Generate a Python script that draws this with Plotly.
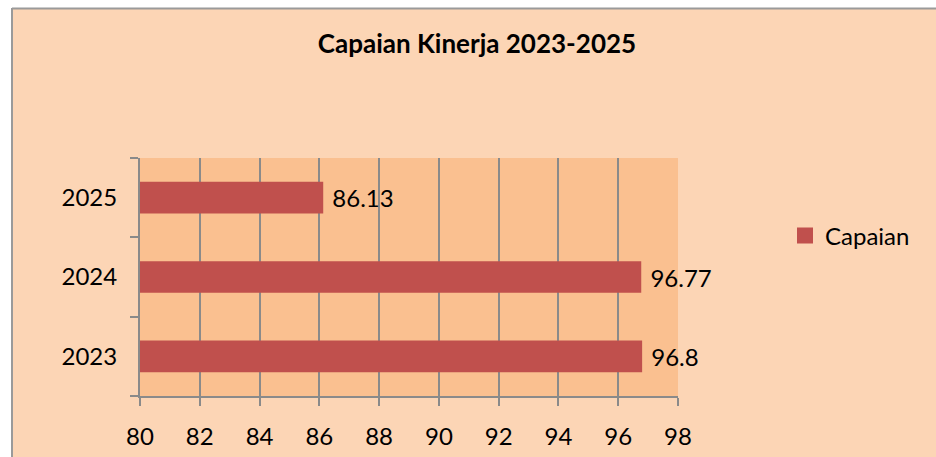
import plotly.graph_objects as go

# ---- data ----
years = ["2023", "2024", "2025"]
capaian = [96.8, 96.77, 86.13]
x_ticks = [80, 82, 84, 86, 88, 90, 92, 94, 96, 98]
title_text = "Capaian Kinerja 2023-2025"
series_name = "Capaian"

# ---- style ----
BAR = "#C0504D"
OUTER = "#FCD5B5"
PLOTBG = "#FAC090"
GRID = "#8A8A8A"
FONT = "Lato"

W, H = 936, 457
# plot area in page pixels: x 140..678, y 158..396
PL, PR, PT, PB = 140, 678, 158, 396
L, R, T, B = PL, W - PR, PT, H - PB
pw, ph = PR - PL, PB - PT


def px_x(p):  # page px -> paper
    return (p - PL) / pw


def px_y(p):
    return (PB - p) / ph


fig = go.Figure()
fig.add_trace(go.Bar(
    x=capaian, y=years, orientation="h", width=0.4,
    marker=dict(color=BAR, line=dict(width=0)),
    text=[f"{v:g}" for v in capaian],
    texttemplate="\u00a0%{text}",
    textposition="outside", cliponaxis=False, constraintext="none",
    textfont=dict(family=FONT, size=24, color="black"),
    showlegend=False, hoverinfo="x+y",
))
# legend entry (bigger square marker)
fig.add_trace(go.Scatter(
    x=[None], y=[None], mode="markers", name=series_name,
    marker=dict(symbol="square", size=16, color=BAR),
    showlegend=True,
))

shapes = [
    # white strips outside the chart frame (top / left)
    dict(type="rect", xref="paper", yref="paper", layer="above",
         x0=px_x(-5), x1=px_x(945), y0=px_y(8), y1=px_y(-5),
         fillcolor="white", line=dict(width=0)),
    dict(type="rect", xref="paper", yref="paper", layer="above",
         x0=px_x(-5), x1=px_x(12), y0=px_y(470), y1=px_y(-5),
         fillcolor="white", line=dict(width=0)),
    # frame border
    dict(type="line", xref="paper", yref="paper", layer="above",
         x0=px_x(12), x1=px_x(945), y0=px_y(8.5), y1=px_y(8.5),
         line=dict(color="#9A9A9A", width=2)),
    dict(type="line", xref="paper", yref="paper", layer="above",
         x0=px_x(12), x1=px_x(12), y0=px_y(8), y1=px_y(470),
         line=dict(color="#9A9A9A", width=2)),
]

fig.update_layout(
    width=W, height=H, autosize=False,
    margin=dict(l=L, r=R, t=T, b=B, pad=0, autoexpand=False),
    paper_bgcolor=OUTER, plot_bgcolor=PLOTBG,
    font=dict(family=FONT, size=24, color="black"),
    title=dict(text=title_text, x=477 / W, xanchor="center",
               y=1 - 44 / H, yanchor="middle",
               font=dict(family=FONT, size=26, color="black", weight=700)),
    xaxis=dict(range=[80, 98], tickvals=x_ticks, ticktext=[str(t) for t in x_ticks],
               showgrid=True, gridcolor=GRID, gridwidth=2,
               showline=True, linecolor=GRID, linewidth=2,
               ticks="outside", ticklen=8, tickwidth=2, tickcolor=GRID,
               ticklabelstandoff=10, zeroline=False, fixedrange=True,
               automargin=False,
               tickfont=dict(family=FONT, size=24, color="black")),
    yaxis=dict(type="category", categoryorder="array", categoryarray=years,
               range=[-0.5, 2.5], showgrid=False,
               showline=True, linecolor=GRID, linewidth=2,
               ticks="outside", ticklen=8, tickwidth=2, tickcolor=GRID,
               tickson="boundaries", ticklabelstandoff=16, fixedrange=True,
               automargin=False,
               tickfont=dict(family=FONT, size=24, color="black")),
    legend=dict(x=px_x(785), xanchor="left", y=px_y(236), yanchor="middle",
                bgcolor="rgba(0,0,0,0)", borderwidth=0,
                font=dict(family=FONT, size=24, color="black")),
    shapes=shapes,
    bargap=0.6,
)

fig.write_html(
    "out.html",
    config={"displayModeBar": False},
    post_script="document.body.style.margin='0';document.body.style.overflow='hidden';",
)
